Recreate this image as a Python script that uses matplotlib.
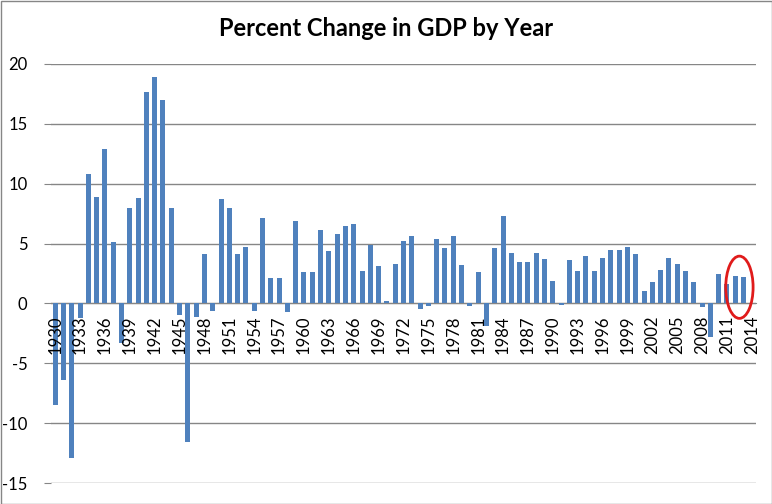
import matplotlib
matplotlib.use("Agg")
import matplotlib.pyplot as plt
from matplotlib.patches import Ellipse, Rectangle

years = list(range(1930, 2015))
growth = [-8.5, -6.4, -12.9, -1.2, 10.8, 8.9, 12.9, 5.1, -3.3, 8.0,
          8.8, 17.7, 18.9, 17.0, 8.0, -1.0, -11.6, -1.1, 4.1, -0.6,
          8.7, 8.0, 4.1, 4.7, -0.6, 7.1, 2.1, 2.1, -0.7, 6.9,
          2.6, 2.6, 6.1, 4.4, 5.8, 6.5, 6.6, 2.7, 4.9, 3.1,
          0.2, 3.3, 5.2, 5.6, -0.5, -0.2, 5.4, 4.6, 5.6, 3.2,
          -0.2, 2.6, -1.9, 4.6, 7.3, 4.2, 3.5, 3.5, 4.2, 3.7,
          1.9, -0.1, 3.6, 2.7, 4.0, 2.7, 3.8, 4.5, 4.5, 4.7,
          4.1, 1.0, 1.8, 2.8, 3.8, 3.3, 2.7, 1.8, -0.3, -2.8,
          2.5, 1.6, 2.3, 2.2, None]
yticks = [-15, -10, -5, 0, 5, 10, 15, 20]
title = "Percent Change in GDP by Year"

fig = plt.figure(figsize=(7.72, 5.04), dpi=100)
ax = fig.add_axes([51/772, (504-483)/504, (756-51)/772, (483-64)/504])

for s in ["top", "right", "left"]:
    ax.spines[s].set_visible(False)
ax.spines["bottom"].set_position(("data", 0))
ax.spines["bottom"].set_color("#868686")
ax.spines["bottom"].set_zorder(1)

xs = list(range(len(years)))
vals = [v if v is not None else 0 for v in growth]
ax.bar(xs, vals, width=0.6, color="#4F81BD", zorder=2)

ax.set_xlim(-0.5, len(years) - 0.5)
ax.set_ylim(-15, 20)
ax.set_yticks(yticks)
ax.set_yticklabels([str(t) for t in yticks], fontfamily="Lato", fontsize=12)
ax.set_xticks(xs[::3])
ax.set_xticklabels([str(y) for y in years[::3]], rotation=90, fontfamily="Lato",
                   fontsize=12, va="top", ha="center")

ax.tick_params(axis="x", length=0, pad=9)
ax.tick_params(axis="y", length=5, color="#868686", pad=12)
ax.yaxis.grid(True, color="#868686", lw=1)
ax.yaxis.set_zorder(0.5)
ax.xaxis.set_zorder(4)

# red highlight circle
ax.add_patch(Ellipse((82.5, 1.35), 3.3, 5.2, fill=False, edgecolor="#E01B1B",
                     lw=2, zorder=5, clip_on=False))

fig.text(0.5, 1 - 28/504, title, ha="center", va="center", fontfamily="Lato",
         fontweight="bold", fontsize=17)
fig.add_artist(Rectangle((0.5/772, 0.5/504), 1 - 1/772, 1 - 1/504, transform=fig.transFigure,
                         fill=False, edgecolor="#868686", lw=1))
fig.savefig("out.png", dpi=100)
